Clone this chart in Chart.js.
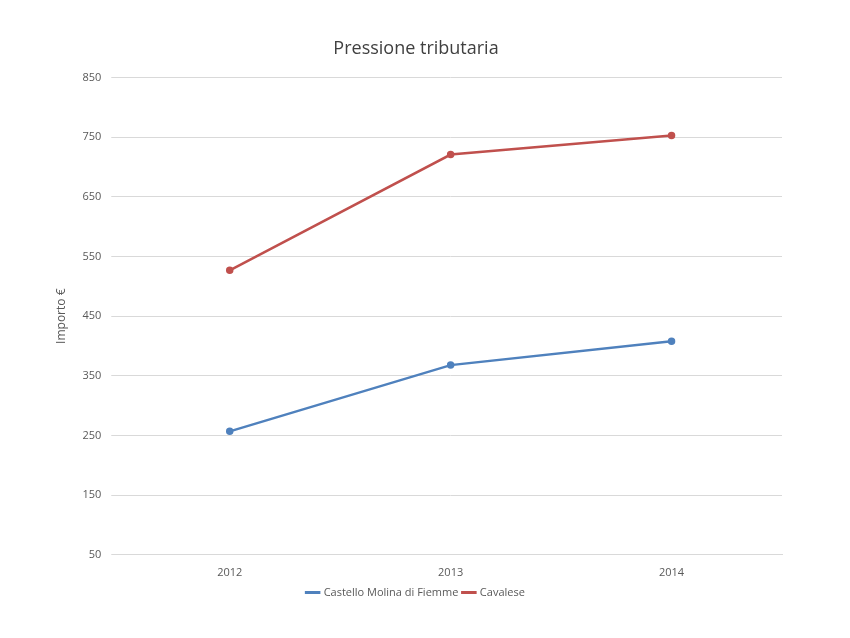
<!DOCTYPE html>
<html><head><meta charset="utf-8">
<script src="https://cdn.jsdelivr.net/npm/chart.js@4"></script>
<style>html,body{margin:0;padding:0;background:#fff}#w{width:850px;height:638px}</style>
</head><body><div id="w"><canvas id="c"></canvas></div>
<script>
const categories = ["2012","2013","2014"];
const castello = [257, 368, 408];
const cavalese = [527, 721, 753];
const yTicks = [50,150,250,350,450,550,650,750,850];
Chart.defaults.font.family = "'Open Sans', 'Liberation Sans', sans-serif";
Chart.defaults.color = "#595959";
new Chart(document.getElementById("c"), {
  type: "line",
  data: { labels: categories, datasets: [
    { label: "Castello Molina di Fiemme", data: castello, borderColor: "#4f81bd", backgroundColor: "#4f81bd", borderWidth: 2.5, pointRadius: 2.5, pointStyle: "circle" },
    { label: "Cavalese", data: cavalese, borderColor: "#c0504d", backgroundColor: "#c0504d", borderWidth: 2.5, pointRadius: 2.5 }
  ]},
  options: {
    responsive: true, maintainAspectRatio: false, animation: false,
    layout: { padding: { left: 50, right: 68, top: 20, bottom: 30 } },
    plugins: {
      title: { display: true, text: "Pressione tributaria", font: { size: 18, weight: "normal" }, color: "#404040", padding: { top: 18, bottom: 18 } },
      legend: { position: "bottom", labels: { padding: 5, usePointStyle: true, pointStyle: "line", boxWidth: 24, font: { size: 11 }, generateLabels(ch){ return ch.data.datasets.map((d,i)=>({text:d.label, strokeStyle:d.borderColor, fillStyle:d.borderColor, lineWidth:3, pointStyle:"line", datasetIndex:i, fontColor:"#595959"})); } } },
      tooltip: { enabled: false }
    },
    scales: {
      x: { offset: true, grid: { display: false }, border: { color: "#d9d9d9" }, ticks: { font: { size: 11 } } },
      y: { min: 50, max: 850, afterBuildTicks(a){ a.ticks = yTicks.map(v=>({value:v})); },
           grid: { color: "#d9d9d9" }, border: { display: false }, ticks: { font: { size: 11 }, padding: 10 },
           title: { display: true, text: "Importo €", font: { size: 12 }, color: "#595959" } }
    }
  }
});
</script></body></html>
